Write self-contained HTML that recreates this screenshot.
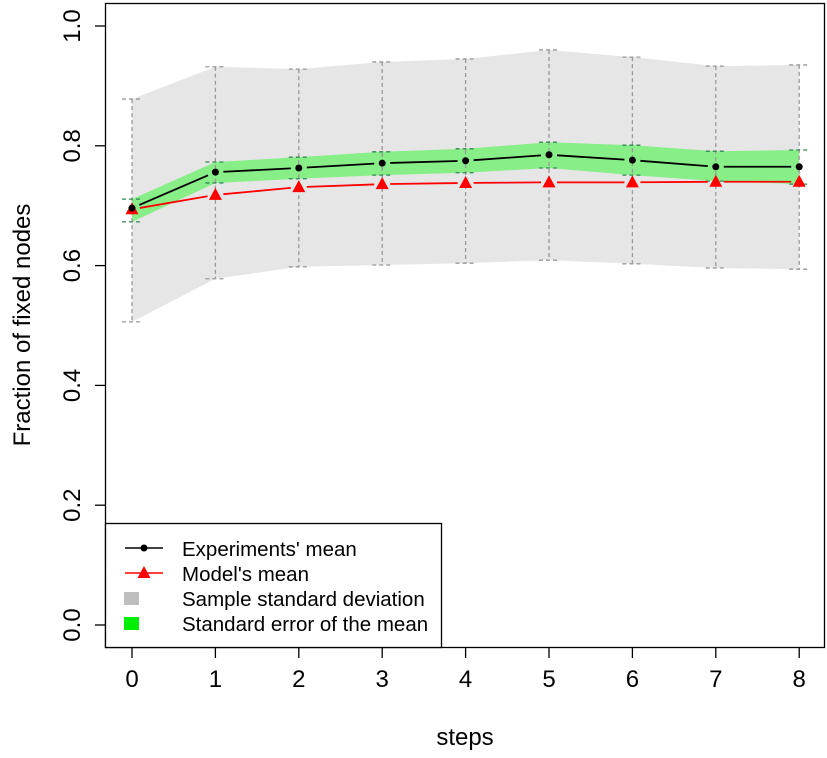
<!DOCTYPE html>
<html><head><meta charset="utf-8"><style>
body{margin:0;background:#fff}
svg text{font-family:"Liberation Sans",Arial,sans-serif;fill:#000}
</style></head><body>
<svg id="chart" width="827" height="753" xmlns="http://www.w3.org/2000/svg"></svg>
<script>
const steps=[0,1,2,3,4,5,6,7,8];
const expMean=[0.696,0.756,0.763,0.771,0.775,0.785,0.776,0.765,0.765];
const modelMean=[0.694,0.718,0.731,0.736,0.738,0.739,0.739,0.740,0.740];
const sdUpper=[0.878,0.932,0.928,0.940,0.945,0.960,0.948,0.933,0.935];
const sdLower=[0.506,0.578,0.598,0.601,0.604,0.609,0.603,0.596,0.594];
const seUpper=[0.711,0.773,0.781,0.790,0.795,0.806,0.801,0.791,0.793];
const seLower=[0.673,0.738,0.745,0.751,0.755,0.763,0.751,0.741,0.736];
const yTicks=["0.0","0.2","0.4","0.6","0.8","1.0"];
const NS="http://www.w3.org/2000/svg";
const svg=document.getElementById('chart');
const X=s=>132+s*83.4;
const Y=v=>625-599*v;
function mk(t,a,parent){const e=document.createElementNS(NS,t);for(const k in a)e.setAttribute(k,a[k]);(parent||svg).appendChild(e);return e;}
let e=mk('polygon',{points:steps.map((s,i)=>X(s)+','+Y(sdUpper[i])).concat(steps.slice().reverse().map(s=>X(s)+','+Y(sdLower[s]))).join(' '),fill:'#e6e6e6'});

e=mk('polygon',{points:steps.map((s,i)=>X(s)+','+Y(seUpper[i])).concat(steps.slice().reverse().map(s=>X(s)+','+Y(seLower[s]))).join(' '),fill:'#88ee88'});

steps.forEach((s,i)=>{
 const x=X(s);
 e=mk('line',{x1:x,x2:x,y1:Y(sdUpper[i]),y2:Y(sdLower[i]),stroke:'#999','stroke-dasharray':'4,3','stroke-width':1.3});
 
 [sdUpper[i],sdLower[i]].forEach(v=>mk('line',{x1:x-10,x2:x+10,y1:Y(v),y2:Y(v),stroke:'#999','stroke-dasharray':'4,3','stroke-width':1.3}));
 [seUpper[i],seLower[i]].forEach(v=>mk('line',{x1:x-10,x2:x+10,y1:Y(v),y2:Y(v),stroke:'#338855','stroke-dasharray':'4,3','stroke-width':1.3}));
});
function gapLine(vals,color,name){
 for(let i=0;i<vals.length-1;i++){
  const x1=X(steps[i]),y1=Y(vals[i]),x2=X(steps[i+1]),y2=Y(vals[i+1]);
  const dx=x2-x1,dy=y2-y1,L=Math.hypot(dx,dy),g=8/L;
  e=mk('line',{x1:x1+dx*g,y1:y1+dy*g,x2:x2-dx*g,y2:y2-dy*g,stroke:color,'stroke-width':1.8});
  
 }
}
gapLine(modelMean,'red','model-mean-segment');
steps.forEach((s,i)=>{const x=X(s),y=Y(modelMean[i]);
 e=mk('polygon',{points:`${x},${y-7} ${x-6.5},${y+5} ${x+6.5},${y+5}`,fill:'red'});
 });
gapLine(expMean,'#000','experiments-mean-segment');
steps.forEach((s,i)=>{
 e=mk('circle',{cx:X(s),cy:Y(expMean[i]),r:3.5,fill:'#000'});
 });
e=mk('rect',{x:105.5,y:3.5,width:719,height:644,fill:'none',stroke:'#000','stroke-width':1.3});

yTicks.forEach((t,i)=>{const y=Y(i*0.2);
 mk('line',{x1:95,x2:105,y1:y,y2:y,stroke:'#000','stroke-width':1.3});
 e=mk('text',{x:80,y:y,'font-size':24,'text-anchor':'middle',transform:`rotate(-90 80 ${y})`});
 e.textContent=t;});
steps.forEach(s=>{const x=X(s);
 mk('line',{x1:x,x2:x,y1:648,y2:658,stroke:'#000','stroke-width':1.3});
 e=mk('text',{x:x,y:687,'font-size':24,'text-anchor':'middle'});
 e.textContent=s;});
e=mk('text',{x:465,y:745,'font-size':24,'text-anchor':'middle'});e.textContent='steps';

e=mk('text',{x:30,y:325,'font-size':24,'text-anchor':'middle',transform:'rotate(-90 30 325)'});e.textContent='Fraction of fixed nodes';

const g=mk('g',{});
mk('rect',{x:105.5,y:523.5,width:336,height:124,fill:'#fff',stroke:'#000','stroke-width':1.3},g);
mk('line',{x1:125,x2:163,y1:548,y2:548,stroke:'#000','stroke-width':1.5},g);
mk('circle',{cx:144,cy:548,r:3.5,fill:'#000'},g);
mk('line',{x1:125,x2:163,y1:573,y2:573,stroke:'red','stroke-width':1.5},g);
mk('polygon',{points:'144,566 137.5,578 150.5,578',fill:'red'},g);
mk('rect',{x:124,y:592,width:15,height:13,fill:'#bebebe'},g);
mk('rect',{x:124,y:617,width:15,height:13,fill:'#00ee00'},g);
const labs=["Experiments' mean","Model's mean","Sample standard deviation","Standard error of the mean"];
labs.forEach((l,i)=>{e=mk('text',{x:182,y:556+i*25,'font-size':20.5},g);e.textContent=l;
 });
</script>
</body></html>
